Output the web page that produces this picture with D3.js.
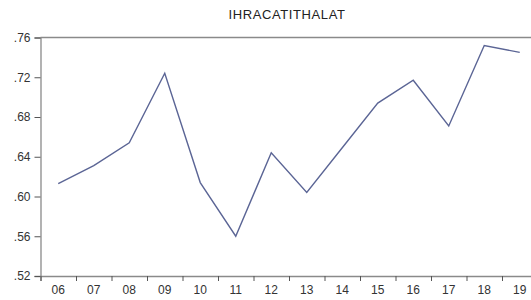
<!DOCTYPE html>
<html>
<head>
<meta charset="utf-8">
<script src="https://cdn.jsdelivr.net/npm/d3@7"></script>
<style>
  body { margin: 0; background: #fff; }
  svg { display: block; font-family: "Liberation Sans", Arial, sans-serif; }
</style>
</head>
<body>
<svg id="chart" width="531" height="300"></svg>
<script>
// data
const years = ["06", "07", "08", "09", "10", "11", "12", "13", "14", "15", "16", "17", "18", "19"];
const values = [0.613, 0.631, 0.654, 0.724, 0.614, 0.560, 0.644, 0.604, 0.649, 0.694, 0.717, 0.671, 0.752, 0.745];
const yTicks = [0.52, 0.56, 0.60, 0.64, 0.68, 0.72, 0.76];
const title = "IHRACATITHALAT";

const svg = d3.select("#chart");

const plotLeft = 40.5, plotRight = 537.5, plotTop = 37.5, plotBottom = 276;

const x = d3.scaleBand().domain(years).range([plotLeft, plotRight]).padding(0);
// boundary scale for the tick marks between years
const xEdge = d3.scaleLinear().domain([0, years.length]).range([plotLeft, plotRight]);
const y = d3.scaleLinear().domain([0.52, 0.76]).range([plotBottom, plotTop]);

const axisColor = "#8a8a8a";

// top frame line
svg.append("line")
  .attr("x1", plotLeft).attr("x2", 531)
  .attr("y1", y(0.76)).attr("y2", y(0.76))
  .attr("stroke", axisColor).attr("stroke-width", 1.3);

// y axis
const yAxis = svg.append("g")
  .attr("transform", `translate(${plotLeft},0)`)
  .call(d3.axisLeft(y).tickValues(yTicks).tickSize(6).tickPadding(4)
    .tickFormat(d => d3.format(".2f")(d).replace(/^0/, "")));

// x axis: tick marks at year boundaries
const xTickAxis = svg.append("g")
  .attr("transform", `translate(0,${plotBottom})`)
  .call(d3.axisBottom(xEdge).tickValues(d3.range(0, years.length + 1)).tickSize(5).tickFormat(""));

// x axis: labels at band centres
const xLabelAxis = svg.append("g")
  .attr("transform", `translate(0,${plotBottom})`)
  .call(d3.axisBottom(x).tickSize(0).tickPadding(9));
xLabelAxis.select(".domain").remove();

[yAxis, xTickAxis].forEach(g => {
  g.select(".domain").attr("stroke", axisColor).attr("stroke-width", 1.3);
  g.selectAll(".tick line").attr("stroke", "#555").attr("stroke-width", 1);
});
[yAxis, xLabelAxis].forEach(g => {
  g.selectAll(".tick text").attr("fill", "#333").attr("font-size", 12)
    .attr("font-family", "'Liberation Sans', Arial, sans-serif");
});

// line
const line = d3.line()
  .x((d, i) => x(years[i]) + x.bandwidth() / 2)
  .y(d => y(d));

svg.append("path")
  .datum(values)
  .attr("d", line)
  .attr("fill", "none")
  .attr("stroke", "#5b6595")
  .attr("stroke-width", 1.4)
  .attr("stroke-linejoin", "miter");

// title
svg.append("text")
  .attr("x", 287)
  .attr("y", 19)
  .attr("text-anchor", "middle")
  .attr("font-size", 13)
  .attr("letter-spacing", 0.6)
  .attr("fill", "#222")
  .text(title);
</script>
</body>
</html>
